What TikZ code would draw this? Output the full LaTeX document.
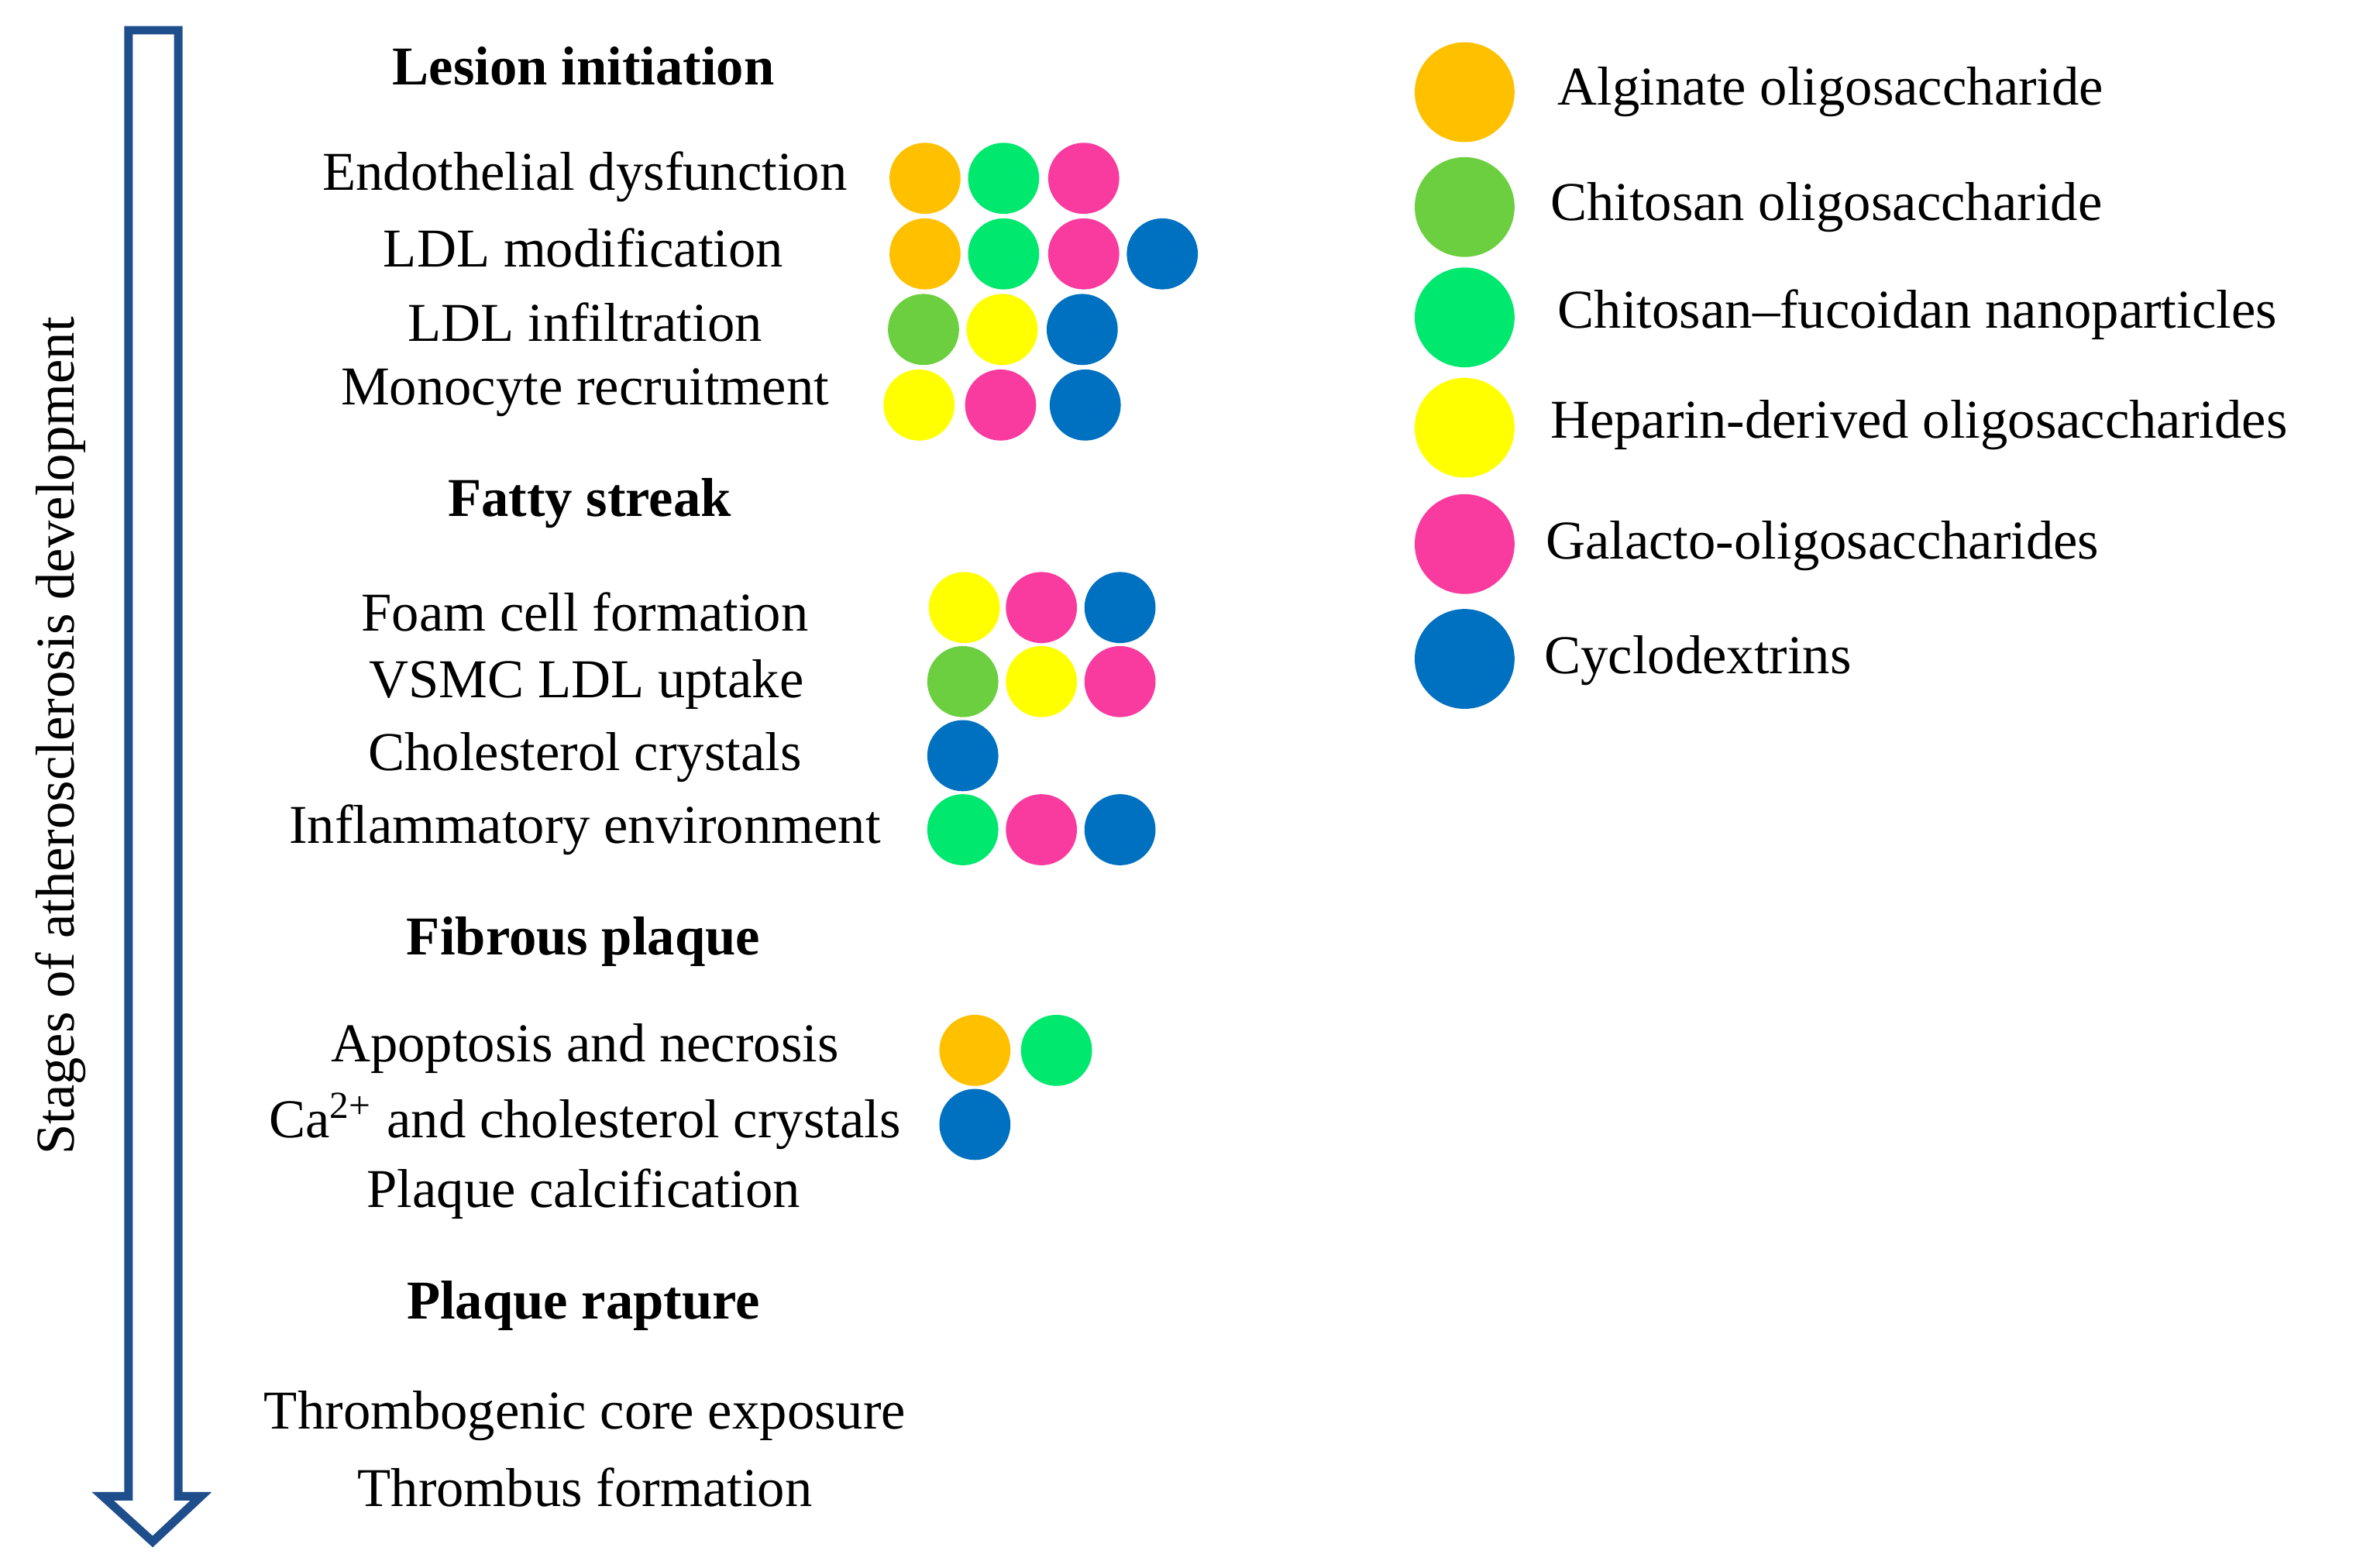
\documentclass[tikz,border=0pt]{standalone}
\usepackage{fontspec}
\setmainfont{Liberation Serif}
\definecolor{cor}{HTML}{FFC000}
\definecolor{clg}{HTML}{6CCF3F}
\definecolor{csg}{HTML}{00E86E}
\definecolor{cye}{HTML}{FFFF00}
\definecolor{cpk}{HTML}{F93BA0}
\definecolor{cbl}{HTML}{0070C0}
\definecolor{arr}{HTML}{1F4E8C}
\begin{document}
\begin{tikzpicture}[x=0.01cm,y=-0.01cm,
  txt/.style={font=\fontsize{10.3}{12}\selectfont,inner sep=0pt},
  hd/.style={font=\fontsize{10.3}{12}\selectfont\bfseries,inner sep=0pt},
  dot/.style={circle,fill=#1,minimum size=0.47cm,inner sep=0pt},
  ldot/.style={circle,fill=#1,minimum size=0.66cm,inner sep=0pt}]
\useasboundingbox (0,0) rectangle (1568,1037);
% arrow
\draw[arr,line width=1.6pt,line join=miter] (85,20) -- (118,20) -- (118,990) -- (133,990) -- (101,1020) -- (68,990) -- (85,990) -- cycle;
\node[txt,rotate=90] (lab) at (40,487) {Stages of atherosclerosis development};
% headings
\node[hd] (h1) at (386,44) {Lesion initiation};
\node[hd] (h2) at (390,333) {Fatty streak};
\node[hd] (h3) at (386,623) {Fibrous plaque};
\node[hd] (h4) at (386,864) {Plaque rapture};
% items
\node[txt] (t1) at (387,117) {Endothelial dysfunction};
\node[txt] (t2) at (386,164) {LDL modification};
\node[txt] (t3) at (387,213) {LDL infiltration};
\node[txt] (t4) at (387,260) {Monocyte recruitment};
\node[txt] (t5) at (387,405) {Foam cell formation};
\node[txt] (t6) at (388,453) {VSMC LDL uptake};
\node[txt] (t7) at (387,501) {Cholesterol crystals};
\node[txt] (t8) at (387,549) {Inflammatory environment};
\node[txt] (t9) at (387,694) {Apoptosis and necrosis};
\node[txt] (t10) at (387,742) {Ca\textsuperscript{2+} and cholesterol crystals};
\node[txt] (t11) at (386,790) {Plaque calcification};
\node[txt] (t12) at (387,937) {Thrombogenic core exposure};
\node[txt] (t13) at (387,984) {Thrombus formation};
% dots
\node[dot=cor] (a1) at (612,118) {}; \node[dot=csg] (a2) at (664,118) {}; \node[dot=cpk] (a3) at (717,118) {};
\node[dot=cor] (b1) at (612,168) {}; \node[dot=csg] (b2) at (664,168) {}; \node[dot=cpk] (b3) at (717,168) {}; \node[dot=cbl] (b4) at (769,168) {};
\node[dot=clg] (c1) at (611,218) {}; \node[dot=cye] (c2) at (663,218) {}; \node[dot=cbl] (c3) at (716,218) {};
\node[dot=cye] (d1) at (608,268) {}; \node[dot=cpk] (d2) at (662,268) {}; \node[dot=cbl] (d3) at (718,268) {};
\node[dot=cye] (e1) at (638,402) {}; \node[dot=cpk] (e2) at (689,402) {}; \node[dot=cbl] (e3) at (741,402) {};
\node[dot=clg] (f1) at (637,451) {}; \node[dot=cye] (f2) at (689,451) {}; \node[dot=cpk] (f3) at (741,451) {};
\node[dot=cbl] (g1) at (637,500) {};
\node[dot=csg] (i1) at (637,549) {}; \node[dot=cpk] (i2) at (689,549) {}; \node[dot=cbl] (i3) at (741,549) {};
\node[dot=cor] (j1) at (645,695) {}; \node[dot=csg] (j2) at (699,695) {};
\node[dot=cbl] (k1) at (645,744) {};
% legend
\node[ldot=cor] (l1) at (969,61) {}; \node[txt,anchor=west] (m1) at (1030,61) {Alginate oligosaccharide};
\node[ldot=clg] (l2) at (969,137) {}; \node[txt,anchor=west] (m2) at (1025,137) {Chitosan oligosaccharide};
\node[ldot=csg] (l3) at (969,210) {}; \node[txt,anchor=west] (m3) at (1030,208) {Chitosan–fucoidan nanoparticles};
\node[ldot=cye] (l4) at (969,283) {}; \node[txt,anchor=west] (m4) at (1025,281) {Heparin-derived oligosaccharides};
\node[ldot=cpk] (l5) at (969,360) {}; \node[txt,anchor=west] (m5) at (1022,361) {Galacto-oligosaccharides};
\node[ldot=cbl] (l6) at (969,436) {}; \node[txt,anchor=west] (m6) at (1021,437) {Cyclodextrins};
\end{tikzpicture}
\end{document}
